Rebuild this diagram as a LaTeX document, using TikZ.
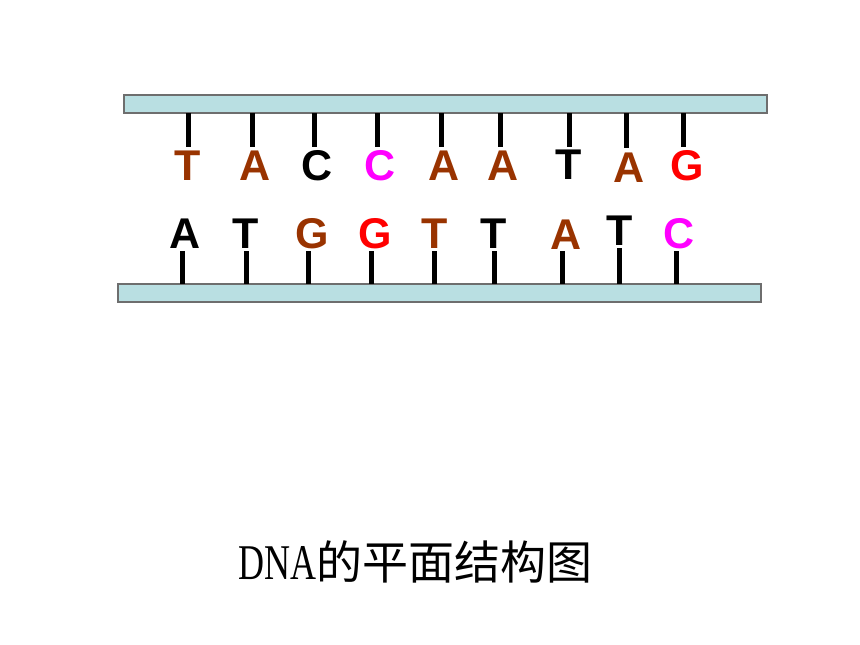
\documentclass[tikz,border=0pt]{standalone}
\usepackage{fontspec}
\setmainfont{Liberation Sans}
\newfontfamily\cjkfont{Noto Sans CJK SC}
\newfontfamily\dnafont{Liberation Serif}
\definecolor{barfill}{RGB}{185,223,226}
\definecolor{barline}{RGB}{110,110,110}
\definecolor{brn}{RGB}{153,51,0}
\definecolor{mag}{RGB}{255,0,255}
\definecolor{rd}{RGB}{255,0,0}
\begin{document}
\begin{tikzpicture}[x=1pt,y=-1pt,
  strand/.style={draw=barline,fill=barfill,line width=1.3pt},
  rung/.style={line width=5pt,black},
  base/.style={font=\fontsize{43}{43}\selectfont\bfseries,inner sep=0pt,anchor=base}]
\useasboundingbox[fill=white] (0,0) rectangle (860,645);
% strands
\draw[strand] (124,95) rectangle (767,113);
\draw[strand] (118,284) rectangle (761,302);
% top rungs
\foreach \x/\e in {188/147,252/147,314/147,377/147,441/147,500/147,569/147,626/148,683/147}
  \draw[rung] (\x,113) -- (\x,\e);
% bottom rungs
\foreach \x/\s in {182/251,246/251,308/251,371/251,434/251,494/251,562/251,619/248,676/251}
  \draw[rung] (\x,\s) -- (\x,284);
% top letters
\node[base,text=brn] (t1) at (188,180) {T};
\node[base,text=brn] (t2) at (255,180) {A};
\node[base,text=black] (t3) at (317,180) {C};
\node[base,text=mag] (t4) at (380,180) {C};
\node[base,text=brn] (t5) at (444,180) {A};
\node[base,text=brn] (t6) at (503,180) {A};
\node[base,text=black] (t7) at (569,179) {T};
\node[base,text=brn] (t8) at (629,182) {A};
\node[base,text=rd] (t9) at (687,180) {G};
% bottom letters
\node[base,text=black] (b1) at (185,248) {A};
\node[base,text=black] (b2) at (246,248) {T};
\node[base,text=brn] (b3) at (312,248) {G};
\node[base,text=rd] (b4) at (375,248) {G};
\node[base,text=brn] (b5) at (435,248) {T};
\node[base,text=black] (b6) at (494,248) {T};
\node[base,text=brn] (b7) at (566,249) {A};
\node[base,text=black] (b8) at (620,245) {T};
\node[base,text=mag] (b9) at (679,248) {C};
% title
\node[anchor=base west,inner sep=0pt] (title) at (238,579)
  {\scalebox{0.72}[1]{\dnafont\fontsize{50}{50}\selectfont DNA}\cjkfont\fontsize{46}{46}\selectfont 的平面结构图};
\end{tikzpicture}
\end{document}
